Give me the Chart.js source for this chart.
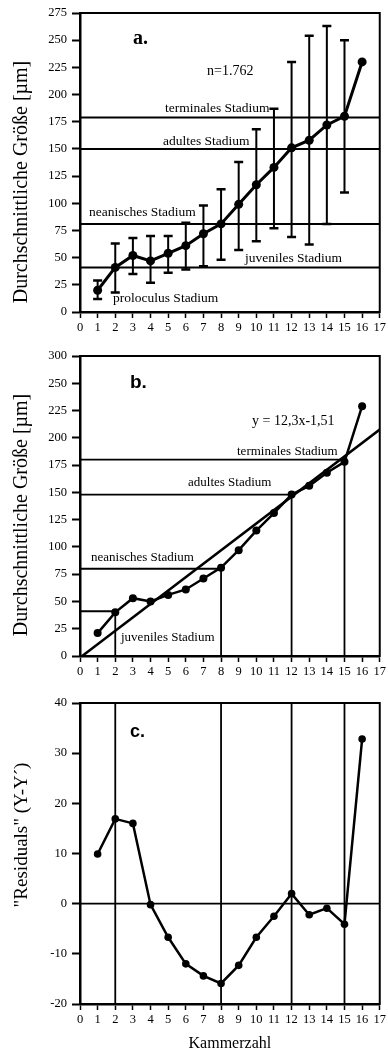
<!DOCTYPE html>
<html><head><meta charset="utf-8">
<script src="https://cdn.jsdelivr.net/npm/chart.js@4.4.1/dist/chart.umd.min.js"></script>
<style>
html,body{margin:0;padding:0;background:#fff;}
#wrap{position:relative;width:388px;height:1053px;overflow:hidden;}
canvas{position:absolute;left:0;}
</style></head><body>
<div id="wrap">
<canvas id="ca" width="388" height="335" style="top:0;width:388px;height:335px"></canvas>
<canvas id="cb" width="388" height="345" style="top:335px;width:388px;height:345px"></canvas>
<canvas id="cc" width="388" height="373" style="top:680px;width:388px;height:373px"></canvas>
</div>
<script>
// ---------- data ----------
const chambers = [1,2,3,4,5,6,7,8,9,10,11,12,13,14,15,16];
const xTickLabels = ['0','1','2','3','4','5','6','7','8','9','10','11','12','13','14','15','16','17'];

// panel a: mean size with range bars (chambers 1..15 have bars)
const meanA      = [20,41,52,47,54,61,72,81,99,117,133,151,158,172,180,230];
const errUpperA  = [29,63,68,70,70,82,98,113,138,168,187,230,254,263,250];
const errLowerA  = [12,18,35,27,36,39,42,48,57,65,77,69,62,81,110];
const stageLevelsA = [179,150,81,41];
const yTickLabelsA = ['0','25','50','75','100','125','150','175','200','225','250','275'];

// panel b: means with linear fit y = 12,3x - 1,51
const meanB      = [21,40,53,50,56,61,71,81,97,115,131,148,156,168,178,229];
const fitX       = [0,17];
const fitY       = [-1.51,207.59];
const stageLevelsB = [180,148,80,41];
const stageEndsB   = [15,12,8,2];
const yTickLabelsB = ['0','25','50','75','100','125','150','175','200','225','250','300'];

// panel c: residuals
const residuals  = [9.9,16.9,16,-0.2,-6.7,-12,-14.4,-15.9,-12.3,-6.7,-2.5,2,-2.2,-0.9,-4.1,32.8];
const residualMarks = [2,8,12,15];
const yTickLabelsC = ['-20','-10','0','10','20','30','40'];

// ---------- helpers ----------
const SERIF = "'Liberation Serif','Times New Roman',Times,serif";
const SANS = "'Liberation Sans',Arial,Helvetica,sans-serif";

const decor = {
  id: 'decor',
  afterDraw(chart, args, opts) {
    const ctx = chart.ctx, a = chart.chartArea;
    ctx.save();
    ctx.strokeStyle = '#000'; ctx.lineWidth = 2;
    ctx.strokeRect(a.left, a.top, a.right - a.left, a.bottom - a.top);
    ctx.fillStyle = '#000';
    const texts = opts.texts || [];
    for (let i = 0; i < texts.length; i++) {
      const t = texts[i];
      ctx.font = t.font; ctx.textAlign = 'left'; ctx.textBaseline = 'middle';
      ctx.fillText(t.text, t.x, t.y);
    }
    const yt = opts.yTitle;
    if (yt) {
      ctx.save();
      ctx.translate(yt.x, yt.y);
      ctx.rotate(-Math.PI / 2);
      ctx.font = yt.font; ctx.textAlign = 'center'; ctx.textBaseline = 'middle';
      ctx.fillText(yt.text, 0, 0);
      ctx.restore();
    }
    ctx.restore();
  }
};

function xAxis(h, title) {
  return {
    type: 'linear', min: 0, max: 17,
    ticks: { stepSize: 1, color: '#000', font: { family: SERIF, size: 12.5 }, padding: 2,
             maxRotation: 0, autoSkip: false, callback: (v, i) => xTickLabels[v] },
    grid: { drawOnChartArea: false, drawTicks: true, tickLength: 6, tickColor: '#000', tickWidth: 1.5 },
    border: { display: true, color: '#000', width: 2.5 },
    title: title ? { display: true, text: title, color: '#000', font: { family: SERIF, size: 16 }, padding: { top: 6, bottom: 0 } } : { display: false },
    afterFit(s) { s.height = h; }
  };
}
function yAxis(min, max, step, labels) {
  return {
    type: 'linear', min: min, max: max,
    ticks: { stepSize: step, color: '#000', font: { family: SERIF, size: 12.5 }, padding: 5,
             autoSkip: false, callback: (v, i) => labels[i] },
    grid: { drawOnChartArea: false, drawTicks: true, tickLength: 8, tickColor: '#000', tickWidth: 2 },
    border: { display: true, color: '#000', width: 2.5 },
    afterFit(s) { s.width = 80; }
  };
}
function seg(points, w) {
  return { data: points, showLine: true, borderColor: '#000', borderWidth: w,
           pointRadius: 0, pointHoverRadius: 0, fill: false, tension: 0 };
}
function meanLine(values, w, r) {
  return { data: chambers.map((c, i) => ({ x: c, y: values[i] })), showLine: true,
           borderColor: '#000', backgroundColor: '#000', borderWidth: w,
           pointRadius: r, pointBackgroundColor: '#000', pointBorderColor: '#000', pointBorderWidth: 0, tension: 0 };
}
function baseOptions(pad, xa, ya, decorOpts) {
  return {
    responsive: false, animation: false, devicePixelRatio: 1,
    layout: { padding: pad },
    plugins: { legend: { display: false }, tooltip: { enabled: false }, decor: decorOpts },
    scales: { x: xa, y: ya }
  };
}

// ---------- panel a ----------
const dsA = [];
stageLevelsA.forEach(v => dsA.push(seg([{ x: 0, y: v }, { x: 17, y: v }], 2)));
errUpperA.forEach((u, i) => dsA.push({
  data: [{ x: chambers[i], y: errLowerA[i] }, { x: chambers[i], y: u }], showLine: true,
  borderColor: '#000', borderWidth: 2, pointStyle: 'line', pointRadius: 4.5,
  pointBorderWidth: 2.5, pointBorderColor: '#000', pointHoverRadius: 0
}));
dsA.push(meanLine(meanA, 3, 4.5));

new Chart(document.getElementById('ca'), {
  type: 'scatter',
  data: { datasets: dsA },
  options: baseOptions({ top: 13, right: 7, left: 0, bottom: 0 }, xAxis(23), yAxis(0, 275, 25, yTickLabelsA), {
    texts: [
      { text: 'a.', x: 133, y: 39, font: `bold 20px ${SERIF}` },
      { text: 'n=1.762', x: 207, y: 71, font: `14px ${SERIF}` },
      { text: 'terminales Stadium', x: 165, y: 108, font: `13.5px ${SERIF}` },
      { text: 'adultes Stadium', x: 163, y: 141, font: `13.5px ${SERIF}` },
      { text: 'neanisches Stadium', x: 89, y: 212, font: `13.5px ${SERIF}` },
      { text: 'juveniles Stadium', x: 245, y: 258, font: `13.5px ${SERIF}` },
      { text: 'proloculus Stadium', x: 113, y: 298, font: `13.5px ${SERIF}` }
    ],
    yTitle: { text: 'Durchschnittliche Größe [µm]', x: 22, y: 182, font: `20px ${SERIF}` }
  }),
  plugins: [decor]
});

// ---------- panel b ----------
const dsB = [];
stageLevelsB.forEach((v, i) => dsB.push(seg([{ x: 0, y: v }, { x: stageEndsB[i], y: v }, { x: stageEndsB[i], y: 0 }], 1.8)));
dsB.push(seg(fitX.map((x, i) => ({ x: x, y: fitY[i] })), 2.5));
dsB.push(meanLine(meanB, 2.5, 4));

new Chart(document.getElementById('cb'), {
  type: 'scatter',
  data: { datasets: dsB },
  options: baseOptions({ top: 21, right: 8, left: 0, bottom: 0 }, xAxis(24), yAxis(0, 275, 25, yTickLabelsB), {
    texts: [
      { text: 'b.', x: 130, y: 48, font: `bold 19px ${SANS}` },
      { text: 'y = 12,3x-1,51', x: 252, y: 86, font: `14px ${SERIF}` },
      { text: 'terminales Stadium', x: 237, y: 117, font: `13px ${SERIF}` },
      { text: 'adultes Stadium', x: 188, y: 148, font: `13px ${SERIF}` },
      { text: 'neanisches Stadium', x: 91, y: 223, font: `13px ${SERIF}` },
      { text: 'juveniles Stadium', x: 121, y: 303, font: `13px ${SERIF}` }
    ],
    yTitle: { text: 'Durchschnittliche Größe [µm]', x: 22, y: 180, font: `20px ${SERIF}` }
  }),
  plugins: [decor]
});

// ---------- panel c ----------
const dsC = [];
residualMarks.forEach(x => dsC.push(seg([{ x: x, y: -20 }, { x: x, y: 40 }], 1.8)));
dsC.push(seg([{ x: 0, y: 0 }, { x: 17, y: 0 }], 1.8));
dsC.push(meanLine(residuals, 2.5, 3.8));

new Chart(document.getElementById('cc'), {
  type: 'scatter',
  data: { datasets: dsC },
  options: baseOptions({ top: 23, right: 8, left: 0, bottom: 0 }, xAxis(49, 'Kammerzahl'), yAxis(-20, 40, 10, yTickLabelsC), {
    texts: [
      { text: 'c.', x: 130, y: 52, font: `bold 18px ${SANS}` }
    ],
    yTitle: { text: '"Residuals" (Y-Y´)', x: 22, y: 155, font: `19px ${SERIF}` }
  }),
  plugins: [decor]
});
</script>
</body></html>
